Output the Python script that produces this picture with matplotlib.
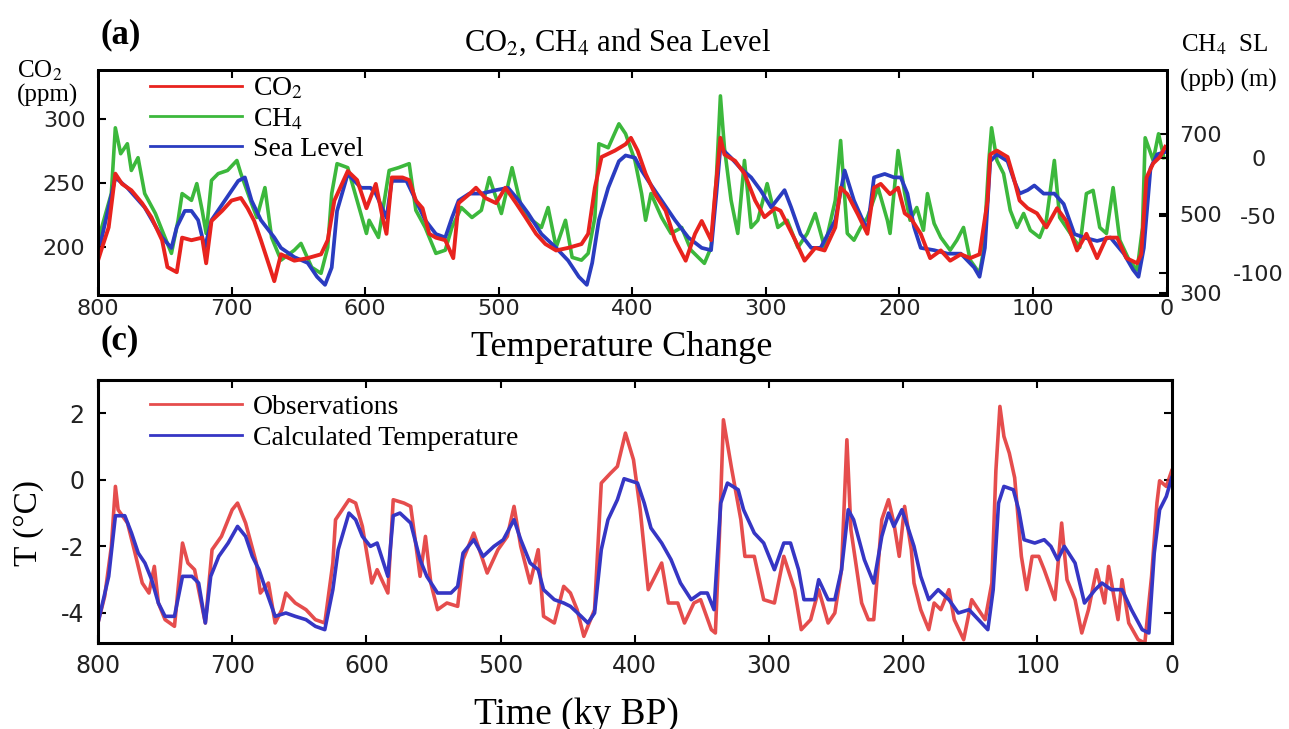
import matplotlib
matplotlib.use("Agg")
import matplotlib.pyplot as plt
from matplotlib.font_manager import FontProperties

# ---------------- data ----------------
co2_age = [800, 797, 792, 787, 782, 775, 767, 760, 752, 748, 741, 737, 730, 722, 719, 715, 707, 700, 693, 688,
           683, 678, 673, 668, 663, 653, 643, 633, 628, 623, 613, 606, 599, 592, 587, 584, 580, 572, 567, 562,
           557, 552, 547, 540, 534, 530, 522, 517, 510, 502, 495, 487, 480, 472, 465, 457, 448, 438, 433, 428,
           423, 413, 405, 401, 396, 390, 383, 375, 368, 360, 353, 348, 341, 338, 334, 331, 323, 316, 308, 301,
           293, 289, 278, 271, 263, 256, 248, 244, 239, 231, 224, 219, 214, 207, 201, 196, 192, 184, 177, 169,
           162, 154, 147, 140, 134, 132, 127, 119, 114, 110, 104, 97, 90, 82, 75, 67, 60, 52, 45, 37,
           30, 22, 19, 15, 10, 5, 1]
co2_ppm = [189, 199, 215, 257, 249, 244, 234, 223, 205, 184, 180, 207, 205, 207, 187, 220, 228, 236, 238, 230,
           220, 205, 189, 173, 194, 189, 191, 194, 205, 236, 259, 252, 230, 249, 223, 210, 254, 254, 252, 236,
           230, 210, 207, 205, 191, 234, 241, 246, 238, 234, 246, 234, 223, 210, 202, 197, 199, 202, 210, 246,
           270, 275, 280, 285, 275, 257, 241, 228, 205, 189, 210, 220, 205, 241, 285, 272, 267, 257, 236, 223,
           230, 228, 205, 189, 199, 197, 215, 246, 241, 225, 210, 246, 249, 241, 246, 226, 223, 210, 191, 197,
           189, 194, 191, 194, 236, 272, 275, 270, 252, 236, 230, 226, 215, 230, 220, 197, 210, 191, 207, 207,
           191, 187, 194, 254, 265, 270, 278]

ch4_age = [800, 790, 787, 783, 778, 775, 770, 765, 757, 752, 745, 740, 737, 730, 726, 722, 719, 715, 710, 703,
           696, 693, 685, 681, 675, 670, 663, 653, 648, 640, 633, 628, 625, 621, 613, 606, 599, 597, 590, 582,
           575, 567, 562, 555, 547, 540, 535, 528, 520, 513, 507, 498, 490, 483, 475, 468, 463, 457, 450, 445,
           438, 433, 428, 425, 418, 410, 405, 398, 393, 390, 386, 378, 371, 363, 356, 346, 341, 337, 334, 331,
           326, 321, 316, 311, 306, 299, 291, 284, 276, 269, 263, 256, 248, 244, 239, 234, 229, 224, 216, 209,
           207, 201, 196, 192, 187, 182, 179, 174, 169, 162, 157, 152, 147, 140, 137, 133, 131, 127, 122, 117,
           112, 107, 102, 95, 90, 84, 80, 72, 65, 60, 55, 50, 45, 40, 35, 28, 22, 18, 16, 10, 6, 2]
ch4_ppb = [432, 550, 715, 650, 675, 608, 640, 550, 500, 458, 400, 483, 550, 533, 575, 508, 450, 583, 600, 608,
           633, 600, 525, 490, 565, 440, 383, 408, 425, 365, 350, 415, 550, 625, 615, 533, 450, 483, 440, 608,
           615, 625, 508, 465, 400, 408, 465, 515, 490, 508, 590, 500, 615, 515, 483, 465, 515, 415, 483, 390,
           383, 400, 490, 675, 665, 725, 700, 633, 550, 483, 550, 490, 450, 465, 408, 375, 415, 590, 795, 665,
           533, 450, 633, 465, 483, 575, 465, 483, 415, 450, 500, 415, 533, 683, 450, 433, 465, 490, 565, 483,
           450, 658, 550, 483, 515, 458, 550, 475, 440, 408, 433, 465, 383, 350, 408, 633, 715, 633, 600, 508,
           465, 500, 458, 440, 483, 633, 490, 450, 415, 550, 558, 465, 450, 565, 433, 383, 358, 465, 690, 633, 700, 640]

sl_age = [800, 787, 778, 765, 752, 745, 741, 735, 730, 725, 720, 715, 705, 695, 690, 685, 678, 668, 663, 653,
          643, 636, 630, 625, 621, 613, 603, 596, 592, 584, 580, 569, 562, 555, 547, 540, 535, 530, 522, 513,
          502, 493, 485, 478, 468, 457, 448, 440, 434, 430, 425, 418, 410, 405, 398, 393, 388, 378, 368, 358,
          348, 341, 337, 334, 326, 319, 311, 304, 296, 286, 281, 274, 266, 259, 248, 241, 234, 224, 219, 211,
          204, 199, 194, 189, 184, 174, 164, 154, 144, 140, 136, 132, 127, 119, 114, 110, 104, 99, 92, 84,
          77, 69, 62, 52, 42, 32, 25, 21, 17, 12, 7, 1]
sl_m = [-84, -17, -26, -43, -69, -78, -60, -46, -46, -54, -78, -54, -37, -20, -17, -37, -54, -69, -78, -86,
        -91, -103, -110, -95, -46, -14, -26, -26, -31, -52, -20, -20, -37, -54, -66, -69, -52, -37, -31, -31,
        -28, -26, -37, -48, -66, -78, -89, -103, -110, -91, -54, -26, -3, 2, 0, -11, -20, -37, -54, -69,
        -78, -80, -31, 9, 0, -9, -17, -28, -43, -28, -43, -66, -78, -78, -54, -11, -37, -63, -17, -14,
        -17, -17, -31, -60, -78, -80, -83, -83, -95, -103, -78, -3, 3, -3, -20, -31, -28, -24, -31, -31,
        -40, -66, -69, -72, -69, -83, -97, -103, -78, -9, 3, 5]

obs_age = [800, 795, 790, 787, 785, 778, 773, 767, 762, 758, 755, 750, 743, 737, 733, 728, 720, 715, 708, 700,
           696, 690, 682, 679, 673, 668, 663, 660, 653, 645, 638, 631, 625, 623, 613, 608, 603, 596, 592, 584,
           580, 572, 567, 560, 556, 552, 547, 540, 532, 528, 520, 510, 502, 495, 490, 485, 478, 472, 468, 460,
           453, 448, 443, 438, 430, 425, 418, 413, 407, 401, 396, 390, 380, 375, 368, 363, 356, 351, 343, 340,
           337, 334, 328, 321, 318, 311, 304, 296, 289, 281, 276, 269, 263, 256, 251, 246, 242, 239, 231, 226,
           222, 216, 211, 207, 203, 199, 194, 192, 187, 181, 177, 172, 166, 162, 155, 149, 144, 139, 134, 131,
           128, 125, 121, 117, 112, 108, 104, 99, 95, 87, 82, 78, 72, 67, 62, 56, 50, 47, 40, 37,
           32, 25, 20, 15, 11, 9, 4, 0]
obs_T = [-4.3, -3.5, -2.0, -0.2, -0.9, -1.3, -2.1, -3.1, -3.4, -2.6, -3.7, -4.2, -4.4, -1.9, -2.5, -2.7, -4.3, -2.1, -1.7, -0.9,
         -0.7, -1.3, -2.5, -3.4, -3.1, -4.3, -3.9, -3.4, -3.7, -3.9, -4.2, -4.3, -2.5, -1.2, -0.6, -0.7, -1.4, -3.1, -2.7, -3.4,
         -0.6, -0.7, -0.8, -2.9, -1.7, -3.1, -3.9, -3.7, -3.8, -2.4, -1.6, -2.8, -2.1, -1.7, -0.8, -2.0, -3.1, -2.1, -4.1, -4.3,
         -3.2, -3.4, -3.9, -4.7, -3.9, -0.1, 0.2, 0.4, 1.4, 0.6, -0.9, -3.3, -2.5, -3.7, -3.7, -4.3, -3.7, -3.6, -4.5, -4.6,
         -1.7, 1.8, 0.36, -1.2, -2.3, -2.3, -3.6, -3.7, -2.3, -3.3, -4.5, -4.2, -3.3, -4.3, -4.0, -2.7, 1.2, -1.5, -3.7, -4.2,
         -4.2, -1.2, -0.6, -1.3, -2.3, -0.8, -2.1, -3.1, -3.9, -4.5, -3.7, -3.9, -3.3, -4.2, -4.8, -3.6, -3.9, -4.2, -3.1, 0.27,
         2.2, 1.3, 0.8, 0.06, -2.3, -3.3, -2.3, -2.3, -2.7, -3.6, -1.3, -3.0, -3.6, -4.6, -3.9, -2.7, -3.7, -2.6, -4.2, -3.0,
         -4.3, -4.8, -4.9, -2.9, -0.7, -0.03, -0.2, 0.27]

calc_age = [800, 792, 787, 780, 775, 770, 765, 760, 755, 750, 743, 739, 737, 730, 725, 720, 716, 710, 703, 696,
            690, 685, 680, 675, 668, 660, 653, 645, 638, 631, 625, 621, 613, 608, 603, 597, 592, 584, 580, 575,
            567, 560, 555, 547, 537, 532, 528, 520, 513, 505, 498, 490, 485, 478, 472, 468, 460, 453, 448, 440,
            435, 430, 425, 420, 413, 408, 398, 393, 388, 380, 373, 366, 358, 351, 346, 341, 336, 331, 323, 319,
            311, 304, 296, 289, 284, 278, 274, 266, 263, 256, 251, 246, 241, 237, 229, 224, 222, 216, 211, 207,
            201, 196, 192, 187, 181, 174, 166, 159, 151, 144, 137, 133, 129, 125, 118, 114, 110, 102, 95, 90,
            85, 80, 72, 65, 57, 52, 45, 37, 30, 22, 17, 13, 9, 4, 0]
calc_T = [-4.3, -2.9, -1.08, -1.08, -1.6, -2.2, -2.5, -3.0, -3.7, -4.1, -4.1, -3.3, -2.9, -2.9, -3.1, -4.3, -2.9, -2.3, -1.9, -1.4,
          -1.7, -2.3, -2.7, -3.3, -4.1, -4.0, -4.1, -4.2, -4.4, -4.5, -3.3, -2.1, -1.0, -1.2, -1.7, -2.0, -1.9, -2.9, -1.08, -1.0,
          -1.3, -2.4, -2.9, -3.4, -3.4, -3.2, -2.2, -1.8, -2.3, -2.0, -1.8, -1.2, -1.8, -2.5, -2.7, -3.3, -3.6, -3.7, -3.8, -4.1,
          -4.3, -4.0, -2.1, -1.2, -0.6, 0.03, -0.1, -0.7, -1.45, -1.9, -2.4, -3.1, -3.6, -3.4, -3.4, -3.9, -0.7, -0.1, -0.3, -0.9,
          -1.6, -1.9, -2.7, -1.9, -1.9, -2.7, -3.6, -3.6, -3.0, -3.6, -3.6, -2.7, -0.9, -1.2, -2.4, -2.9, -3.1, -1.7, -1.0, -1.4,
          -0.9, -1.5, -2.0, -2.9, -3.6, -3.3, -3.6, -4.0, -3.9, -4.2, -4.5, -3.3, -0.7, -0.2, -0.3, -0.9, -1.8, -1.9, -1.8, -2.0,
          -2.4, -2.0, -2.5, -3.7, -3.3, -3.1, -3.3, -3.3, -3.9, -4.5, -4.6, -2.2, -0.9, -0.5, 0.06]

x_ticks = [800, 700, 600, 500, 400, 300, 200, 100, 0]
co2_ticks = [200, 250, 300]
ch4_ticks = [300, 500, 700]
sl_ticks = [-100, -50, 0]
t_ticks = [-4, -2, 0, 2]

# ---------------- styling ----------------
plt.rcParams['font.family'] = ['DejaVu Sans']
plt.rcParams['mathtext.fontset'] = 'stix'
plt.rcParams['axes.unicode_minus'] = False
SERIF = ['Liberation Serif', 'DejaVu Serif']

RED = '#e8231e'
GREEN = '#3cb83c'
BLUE = '#2a3cc0'
TICKCOL = '#222222'

fig = plt.figure(figsize=(12.89, 7.29), dpi=100)
fig.patch.set_facecolor('white')

ax1 = fig.add_axes([0.076, 0.595, 0.829, 0.309])
ax_ch4 = ax1.twinx()
ax_sl = ax1.twinx()
ax1.set_zorder(3)
ax1.patch.set_visible(False)
ax_sl.set_zorder(2)
ax_ch4.set_zorder(1)

l_ch4, = ax_ch4.plot(ch4_age, ch4_ppb, color=GREEN, lw=2.6)
l_sl, = ax_sl.plot(sl_age, sl_m, color=BLUE, lw=2.7)
l_co2, = ax1.plot(co2_age, co2_ppm, color=RED, lw=2.8)

ax1.set_xlim(800, 0)
ax1.set_ylim(162, 338)
ax_ch4.set_ylim(295, 860)
ax_sl.set_ylim(-119, 76)

ax1.set_xticks(x_ticks)
ax1.set_yticks(co2_ticks)
ax_ch4.set_yticks(ch4_ticks)
ax_sl.set_yticks(sl_ticks)

ax1.tick_params(axis='both', direction='in', length=6, width=1.5, labelsize=16,
                colors='black', labelcolor=TICKCOL, top=True, right=False)
ax1.tick_params(axis='x', pad=3)
ax1.tick_params(axis='y', pad=9)
ax_ch4.tick_params(axis='y', direction='in', length=6, width=1.5, labelsize=16,
                   labelcolor=TICKCOL, pad=9)
ax_sl.tick_params(axis='y', direction='in', length=6, width=1.5, labelsize=16,
                  labelcolor=TICKCOL, pad=66)
for lbl in ax_sl.get_yticklabels():
    lbl.set_ha('center')

for a in (ax1, ax_ch4, ax_sl):
    for s in a.spines.values():
        s.set_linewidth(2.0)

leg1 = ax1.legend([l_co2, l_ch4, l_sl], ['CO$_2$', 'CH$_4$', 'Sea Level'],
                  loc='upper left', bbox_to_anchor=(0.0486, 0.972), frameon=False,
                  borderpad=0, borderaxespad=0, handlelength=3.3, handletextpad=0.4,
                  labelspacing=0.16, prop=FontProperties(family=SERIF, size=20))
for h in leg1.get_lines():
    h.set_linewidth(2.0)

# ---------------- bottom panel ----------------
ax2 = fig.add_axes([0.076, 0.118, 0.833, 0.361])
l_obs, = ax2.plot(obs_age, obs_T, color='#e33a3a', lw=2.6, alpha=0.9)
l_calc, = ax2.plot(calc_age, calc_T, color='#3636c4', lw=2.6)
ax2.set_xlim(800, 0)
ax2.set_ylim(-4.9, 3.0)
ax2.set_xticks(x_ticks)
ax2.set_yticks(t_ticks)
ax2.tick_params(axis='both', direction='in', length=6, width=1.5, labelsize=17,
                labelcolor=TICKCOL, top=True, right=True)
ax2.tick_params(axis='x', pad=8)
ax2.tick_params(axis='y', pad=10)
for s in ax2.spines.values():
    s.set_linewidth(2.2)

leg2 = ax2.legend([l_obs, l_calc], ['Observations', 'Calculated Temperature'],
                  loc='upper left', bbox_to_anchor=(0.0486, 0.945), frameon=False,
                  borderpad=0, borderaxespad=0, handlelength=3.3, handletextpad=0.4,
                  labelspacing=0.2, prop=FontProperties(family=SERIF, size=20))
for h in leg2.get_lines():
    h.set_linewidth(2.0)

# ---------------- texts ----------------
fig.text(0.078, 0.952, '(a)', family=SERIF, fontsize=25, fontweight='bold', ha='left', va='center')
fig.text(0.479, 0.942, 'CO$_2$, CH$_4$ and Sea Level', family=SERIF, fontsize=22, ha='center', va='center')
fig.text(0.031, 0.903, 'CO$_2$', family=SERIF, fontsize=18, ha='center', va='center')
fig.text(0.037, 0.869, '(ppm)', family=SERIF, fontsize=18, ha='center', va='center')
fig.text(0.950, 0.938, 'CH$_4$  SL', family=SERIF, fontsize=18, ha='center', va='center')
fig.text(0.953, 0.890, '(ppb) (m)', family=SERIF, fontsize=18, ha='center', va='center')
fig.text(0.078, 0.533, '(c)', family=SERIF, fontsize=25, fontweight='bold', ha='left', va='center')
fig.text(0.4826, 0.523, 'Temperature Change', family=SERIF, fontsize=26, ha='center', va='center')
fig.text(0.022, 0.283, 'T (\u00b0C)', family=SERIF, fontsize=24, ha='center', va='center', rotation=90)
fig.text(0.447, 0.044, 'Time (ky BP)', family=SERIF, fontsize=27, ha='center', va='top')

fig.savefig('out.png', dpi=100, facecolor='white')
